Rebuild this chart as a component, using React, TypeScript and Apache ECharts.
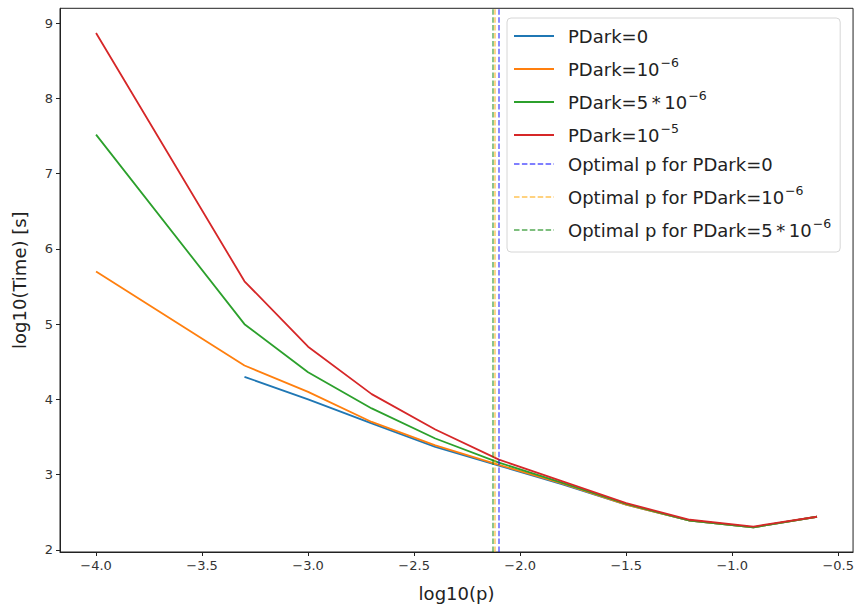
import React, { useEffect, useRef } from "react";
import * as echarts from "echarts";

const xs = [-4.0, -3.3, -3.0, -2.7, -2.4, -2.1, -1.8, -1.5, -1.2, -0.9, -0.6];
const pdark0 = [null, 4.30, 4.00, 3.68, 3.37, 3.12, 2.87, 2.60, 2.39, 2.30, 2.44];
const pdark1e6 = [5.70, 4.45, 4.10, 3.70, 3.39, 3.13, 2.88, 2.60, 2.39, 2.30, 2.44];
const pdark5e6 = [7.52, 5.00, 4.36, 3.88, 3.48, 3.16, 2.89, 2.61, 2.39, 2.30, 2.44];
const pdark1e5 = [8.87, 5.57, 4.70, 4.07, 3.60, 3.20, 2.91, 2.62, 2.40, 2.31, 2.44];
const optimalP = [-2.10, -2.12, -2.135];

const xTicks = [-4.0, -3.5, -3.0, -2.5, -2.0, -1.5, -1.0, -0.5];
const yTicks = [2, 3, 4, 5, 6, 7, 8, 9];

const seriesNames = ["PDark=0", "PDark=10^-6", "PDark=5*10^-6", "PDark=10^-5"];
const optNames = [
  "Optimal p for PDark=0",
  "Optimal p for PDark=10^-6",
  "Optimal p for PDark=5*10^-6",
];
const lineColors = ["#1f77b4", "#ff7f0e", "#2ca02c", "#d62728"];
const optColors = ["rgba(0,0,255,0.5)", "rgba(255,165,0,0.5)", "rgba(0,128,0,0.5)"];

const legendRich: Record<string, string> = {
  "PDark=0": "{n|PDark=0}",
  "PDark=10^-6": "{n|PDark=10}{s|\u22126}",
  "PDark=5*10^-6": "{n|PDark=5\u2009*\u200910}{s|\u22126}",
  "PDark=10^-5": "{n|PDark=10}{s|\u22125}",
  "Optimal p for PDark=0": "{n|Optimal p for PDark=0}",
  "Optimal p for PDark=10^-6": "{n|Optimal p for PDark=10}{s|\u22126}",
  "Optimal p for PDark=5*10^-6": "{n|Optimal p for PDark=5\u2009*\u200910}{s|\u22126}",
};

const FONT = "DejaVu Sans";
const fmt = (v: number) => (v < 0 ? "\u2212" + Math.abs(v).toFixed(1) : v.toFixed(1));

export default function App() {
  const ref = useRef<HTMLDivElement>(null);
  useEffect(() => {
    if (!ref.current) return;
    const chart = echarts.init(ref.current, undefined, { renderer: "svg" });
    const dataSets = [pdark0, pdark1e6, pdark5e6, pdark1e5];
    const lineSeries = dataSets.map((arr, k) => ({
      type: "line",
      name: seriesNames[k],
      data: xs
        .map((x, i) => [x, arr[i]])
        .filter((p) => p[1] !== null),
      showSymbol: false,
      symbol: "none",
      lineStyle: { color: lineColors[k], width: 1.8 },
      itemStyle: { color: lineColors[k] },
      z: 2 + k,
    }));
    const optSeries = optimalP.map((v, k) => ({
      type: "line",
      name: optNames[k],
      data: [],
      symbol: "none",
      lineStyle: { color: optColors[k], width: 1.8, type: [5.5, 2.4] },
      itemStyle: { color: optColors[k] },
      markLine: {
        silent: true,
        symbol: "none",
        label: { show: false },
        lineStyle: { color: optColors[k], width: 1.8, type: [5.5, 2.4] },
        data: [{ xAxis: v }],
        z: 10,
      },
      z: 10,
    }));
    chart.setOption({
      animation: false,
      backgroundColor: "#ffffff",
      textStyle: { fontFamily: FONT },
      grid: {
        left: 60,
        right: 3,
        top: 8.3,
        bottom: 54.2,
        show: true,
        borderColor: "#222",
        borderWidth: 1,
        containLabel: false,
      },
      xAxis: {
        type: "value",
        min: -4.17,
        max: -0.43,
        name: "log10(p)",
        nameLocation: "middle",
        nameGap: 32,
        nameTextStyle: { fontSize: 18, color: "#222", fontFamily: FONT },
        axisLine: { show: true, onZero: false, lineStyle: { color: "#222", width: 1 } },
        axisTick: { show: true, length: 4, lineStyle: { color: "#222" }, customValues: xTicks },
        axisLabel: {
          fontSize: 13,
          color: "#333",
          margin: 7,
          fontFamily: FONT,
          customValues: xTicks,
          formatter: (v: number) => fmt(v),
        },
        splitLine: { show: false },
      },
      yAxis: {
        type: "value",
        min: 1.9715,
        max: 9.1985,
        name: "log10(Time) [s]",
        nameLocation: "middle",
        nameGap: 32,
        nameTextStyle: { fontSize: 18, color: "#222", fontFamily: FONT },
        axisLine: { show: true, onZero: false, lineStyle: { color: "#222", width: 1 } },
        axisTick: { show: true, length: 4, lineStyle: { color: "#222" }, customValues: yTicks },
        axisLabel: {
          fontSize: 13,
          color: "#333",
          margin: 7,
          fontFamily: FONT,
          customValues: yTicks,
          formatter: (v: number) => String(Math.round(v)),
        },
        splitLine: { show: false },
      },
      legend: {
        orient: "vertical",
        left: 507,
        top: 18,
        padding: [9, 9, 13, 6],
        itemGap: 11,
        itemWidth: 40,
        itemHeight: 14,
        borderColor: "#d6d6d6",
        borderWidth: 1,
        borderRadius: 4,
        backgroundColor: "rgba(255,255,255,0.85)",
        itemStyle: { color: "transparent", borderColor: "transparent", borderWidth: 0, opacity: 0 },
        data: [...seriesNames, ...optNames],
        formatter: (name: string) => legendRich[name] || name,
        textStyle: {
          fontFamily: FONT,
          fontSize: 18,
          color: "#222",
          rich: {
            n: { fontSize: 18, fontFamily: FONT, color: "#222", padding: [0, 0, 0, 9] },
            s: { fontSize: 12.5, fontFamily: FONT, color: "#222", padding: [0, 0, 13, 1] },
          },
        },
      },
      series: [...lineSeries, ...optSeries],
    });
    return () => chart.dispose();
  }, []);
  return (
    <div
      ref={ref}
      style={{ position: "fixed", left: 0, top: 0, width: 857, height: 607 }}
    />
  );
}
